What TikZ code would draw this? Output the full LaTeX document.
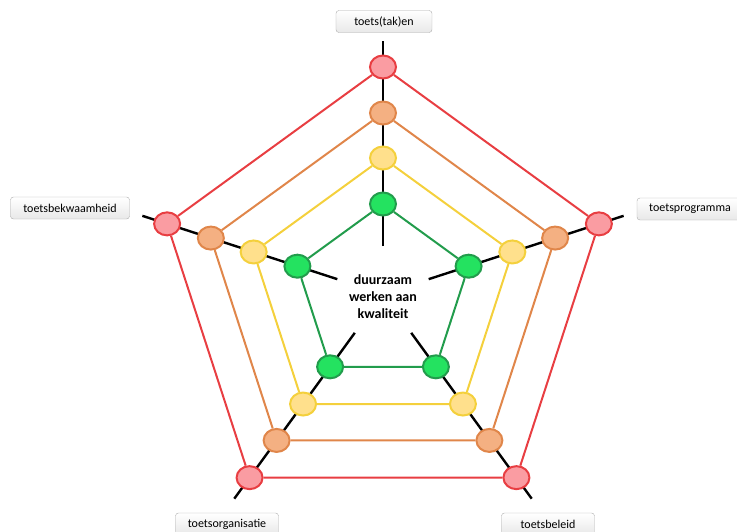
\documentclass[tikz,border=0pt]{standalone}
\usepackage{fontspec}
\setmainfont{Carlito}
\usetikzlibrary{shapes.geometric}
\usetikzlibrary{backgrounds}
\definecolor{redline}{RGB}{232,62,66}
\definecolor{redfill}{RGB}{250,156,162}
\definecolor{orangeline}{RGB}{224,134,74}
\definecolor{orangefill}{RGB}{244,176,130}
\definecolor{yellowline}{RGB}{244,208,60}
\definecolor{yellowfill}{RGB}{255,224,140}
\definecolor{greenline}{RGB}{34,156,76}
\definecolor{greenfill}{RGB}{36,226,96}
\tikzset{
dot/.style={ % Sets the properties for each point on a ring
ellipse,
line width=2pt,
inner sep=0pt,
minimum width=26pt,
minimum height=23pt},
reddot/.style={dot, draw=redline, fill=redfill},
orangedot/.style={dot, draw=orangeline, fill=orangefill},
yellowdot/.style={dot, draw=yellowline, fill=yellowfill},
greendot/.style={dot, draw=greenline, fill=greenfill},
ring/.style={line width=2pt}, % Lines between the points
spoke/.style={draw=black, line width=2.4pt},
labelbox/.style={ % Sets the properties for the outer labels
draw=gray!65,
rounded corners=3pt,
top color=white,
bottom color=gray!18,
inner sep=0pt,
minimum height=22pt,
font=\fontsize{12}{14}\selectfont}}

\begin{document}
\begin{tikzpicture}[x=1pt, y=1pt]
\useasboundingbox (-383,-237) rectangle (354,294);
\foreach \i/\a in {1/90, 2/18, 3/-54, 4/-126, 5/162} {
\node[reddot] (r\i) at (\a:227) {};
\node[orangedot] (o\i) at (\a:181) {};
\node[yellowdot] (y\i) at (\a:136) {};
\node[greendot] (g\i) at (\a:90) {};
\coordinate (in\i) at (\a:48);
\coordinate (out\i) at (\a:253);
}
\begin{pgfonlayer}{background}
\foreach \i in {1,...,5} \draw[spoke] (in\i) -- (out\i);
\end{pgfonlayer}
\draw[ring, draw=redline] (r1) -- (r2) -- (r3) -- (r4) -- (r5) -- (r1);
\draw[ring, draw=orangeline] (o1) -- (o2) -- (o3) -- (o4) -- (o5) -- (o1);
\draw[ring, draw=yellowline] (y1) -- (y2) -- (y3) -- (y4) -- (y5) -- (y1);
\draw[ring, draw=greenline] (g1) -- (g2) -- (g3) -- (g4) -- (g5) -- (g1);
\node[font=\bfseries\fontsize{14}{17}\selectfont, align=center] (core) at (0,-3) {duurzaam\\werken aan\\kwaliteit};
\node[labelbox, minimum width=96pt] (taken) at (1,272.5) {toets(tak)en};
\node[labelbox, minimum width=106pt] (programma) at (307,85) {toetsprogramma};
\node[labelbox, minimum width=93pt] (beleid) at (165,-230) {toetsbeleid};
\node[labelbox, minimum width=103pt] (organisatie) at (-156,-230) {toetsorganisatie};
\node[labelbox, minimum width=119pt] (bekwaamheid) at (-313,86) {toetsbekwaamheid};
\end{tikzpicture}
\end{document}
